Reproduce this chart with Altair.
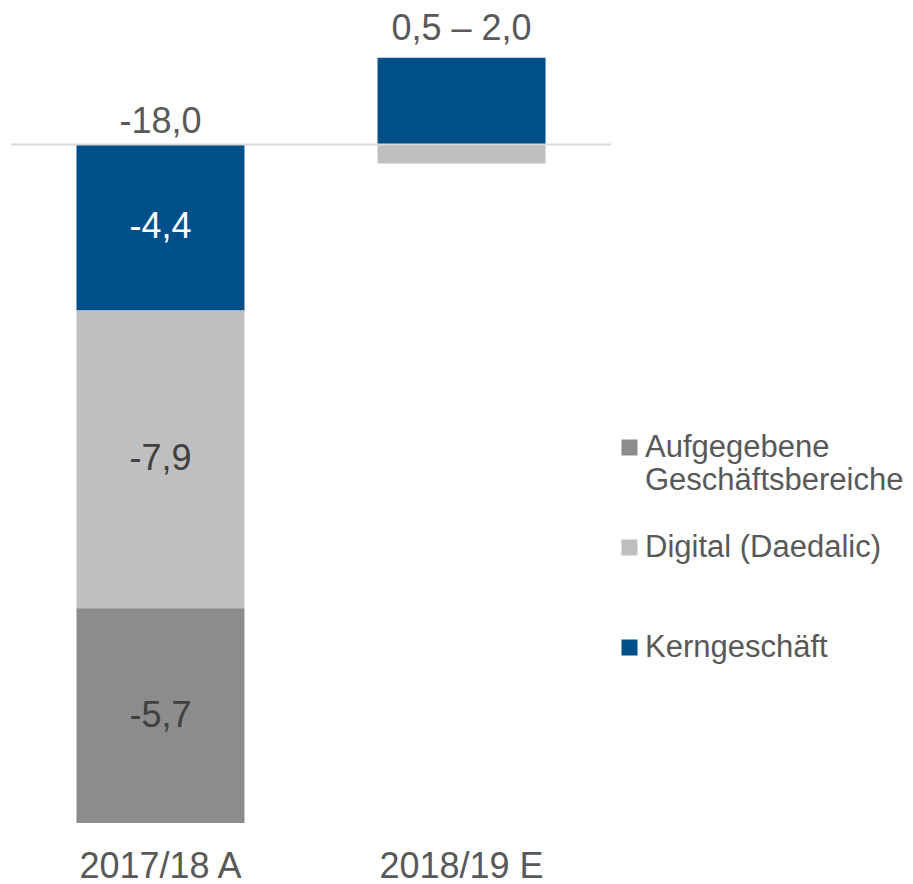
import altair as alt
import pandas as pd

# ---- data ----
categories = ["2017/18 A", "2018/19 E"]
segments = ["Kerngeschäft", "Digital (Daedalic)", "Aufgegebene\nGeschäftsbereiche"]
values_2017 = [-4.4, -7.9, -5.7]
values_2018 = [2.3, -0.5, None]
labels_2017 = ["-4,4", "-7,9", "-5,7"]
labels_2018 = ["", "", ""]
totals = ["-18,0", "0,5 – 2,0"]
legend_order = ["Aufgegebene\nGeschäftsbereiche", "Digital (Daedalic)", "Kerngeschäft"]

# ---- styles ----
seg_colors = ["#8c8c8c", "#bfbfbf", "#004f8b"]
TXT = "#595959"
FONT = "Liberation Sans"

rows = []
for cat, vals, labs in [(categories[0], values_2017, labels_2017),
                        (categories[1], values_2018, labels_2018)]:
    for i, (seg, v, lab) in enumerate(zip(segments, vals, labs)):
        if v is None:
            continue
        rows.append({"cat": cat, "seg": seg, "value": v, "label": lab, "order": i})
df = pd.DataFrame(rows)

tot_rows = []
for cat, vals, t in zip(categories, [values_2017, values_2018], totals):
    top = sum(v for v in vals if v is not None and v > 0)
    tot_rows.append({"cat": cat, "top": top, "total": t})
tdf = pd.DataFrame(tot_rows)

xenc = alt.X("cat:N", sort=categories,
             scale=alt.Scale(domain=categories, paddingInner=0.442, paddingOuter=0.2175),
             title=None)
yscale = alt.Scale(domain=[-18, 3.57], nice=False, zero=False)

base = alt.Chart(df).transform_stack(
    stack="value", groupby=["cat"], as_=["y0", "y1"],
    sort=[alt.SortField("order", order="ascending")]
)

bars = base.mark_bar().encode(
    x=xenc,
    y=alt.Y("y0:Q", scale=yscale, axis=None),
    y2="y1:Q",
    color=alt.Color(
        "seg:N",
        scale=alt.Scale(domain=legend_order, range=seg_colors),
        legend=alt.Legend(
            title=None, orient="none", legendX=603, legendY=422,
            symbolType="square", symbolSize=256, symbolStrokeWidth=0,
            labelFontSize=31, labelColor=TXT, labelFont=FONT, labelLimit=400,
            labelOffset=0, rowPadding=35, padding=0,
            labelExpr="indexof(datum.label, '\\n') >= 0 ? split(datum.label, '\\n') : [datum.label, '']",
        ),
    ),
)

seg_text = base.transform_calculate(mid="(datum.y0 + datum.y1) / 2").mark_text(
    fontSize=36, font=FONT, baseline="middle", align="center"
).encode(
    x=xenc,
    y=alt.Y("mid:Q", scale=yscale, axis=None),
    text="label:N",
    color=alt.condition(alt.datum.seg == "Kerngeschäft", alt.value("white"), alt.value("#404040")),
)

zero_rule = alt.Chart(pd.DataFrame({"y": [0]})).mark_rule(
    color="#d9d9d9", strokeWidth=2
).encode(y=alt.Y("y:Q", scale=yscale, axis=None))

tot_neg = alt.Chart(tdf).transform_filter(alt.datum.top <= 0).mark_text(
    fontSize=36, font=FONT, baseline="alphabetic", align="center", dy=-12, color=TXT
).encode(x=xenc, y=alt.Y("top:Q", scale=yscale, axis=None), text="total:N")

tot_pos = alt.Chart(tdf).transform_filter(alt.datum.top > 0).mark_text(
    fontSize=36, font=FONT, baseline="alphabetic", align="center", dy=-18, color=TXT
).encode(x=xenc, y=alt.Y("top:Q", scale=yscale, axis=None), text="total:N")

chart = alt.layer(bars, seg_text, zero_rule, tot_neg, tot_pos).properties(
    width=600, height=813,
    padding={"left": 2, "top": 2, "right": 0, "bottom": 0},
).configure_view(stroke=None).configure_axisX(
    labelFontSize=36, labelFont=FONT, labelColor=TXT, labelAngle=0,
    ticks=False, domain=False, labelPadding=26, title=None,
)

chart.save("out.html", embed_options={"renderer": "svg", "actions": False})
